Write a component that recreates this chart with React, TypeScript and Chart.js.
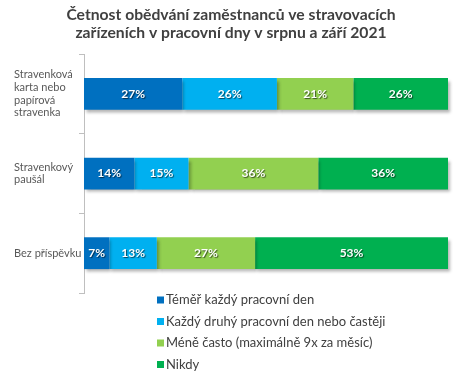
import React, { useEffect, useRef } from "react";
import { Chart, registerables } from "chart.js";

Chart.register(...registerables);

const titleLines = [
  "Četnost obědvání zaměstnanců ve stravovacích",
  "zařízeních v pracovní dny v srpnu a září 2021",
];

const categories: (string | string[])[] = [
  ["Stravenková", "karta nebo", "papírová", "stravenka"],
  ["Stravenkový", "paušál"],
  "Bez příspěvku",
];

const seriesNames = [
  "Téměř každý pracovní den",
  "Každý druhý pracovní den nebo častěji",
  "Méně často (maximálně 9x za měsíc)",
  "Nikdy",
];

const almostDaily = [27, 14, 7];
const everyOtherDay = [26, 15, 13];
const lessOften = [21, 36, 27];
const never = [26, 36, 53];

const seriesColors = ["#0070C0", "#00B0F0", "#92D050", "#00B050"];

const FONT = "Lato, 'Open Sans', sans-serif";

export default function App() {
  const ref = useRef<HTMLCanvasElement | null>(null);

  useEffect(() => {
    document.body.style.margin = "0";
    const canvas = ref.current;
    if (!canvas) return;

    const raw = [almostDaily, everyOtherDay, lessOften, never];
    const sums = categories.map((_, i) => raw.reduce((s, arr) => s + arr[i], 0));

    const shadowPlugin = {
      id: "barShadow",
      beforeDatasetsDraw(chart: any) {
        const ctx = chart.ctx;
        ctx.save();
        ctx.shadowColor = "rgba(0,0,0,0.3)";
        ctx.shadowOffsetX = 2;
        ctx.shadowOffsetY = 3;
        ctx.shadowBlur = 3;
      },
      afterDatasetsDraw(chart: any) {
        chart.ctx.restore();
      },
    };

    const labelPlugin = {
      id: "segLabels",
      afterDatasetsDraw(chart: any) {
        const ctx = chart.ctx;
        chart.data.datasets.forEach((ds: any, di: number) => {
          const meta = chart.getDatasetMeta(di);
          meta.data.forEach((el: any, i: number) => {
            const x = (el.x + el.base) / 2;
            const y = el.y;
            ctx.save();
            ctx.font = `bold 12px ${FONT}`;
            ctx.textAlign = "center";
            ctx.textBaseline = "middle";
            ctx.shadowColor = "rgba(0,0,0,0.6)";
            ctx.shadowOffsetX = 1;
            ctx.shadowOffsetY = 1;
            ctx.shadowBlur = 1;
            ctx.fillStyle = "#ffffff";
            ctx.fillText(`${ds.rawValues[i]}%`, x, y);
            ctx.restore();
          });
        });
      },
    };

    const legendPlugin = {
      id: "vertLegend",
      afterDraw(chart: any) {
        const ctx = chart.ctx;
        ctx.save();
        chart.data.datasets.forEach((ds: any, i: number) => {
          const y = 300 + i * 21.5;
          ctx.fillStyle = ds.backgroundColor;
          ctx.fillRect(157, y - 3.5, 7, 7);
          ctx.fillStyle = "#404040";
          ctx.font = `13px ${FONT}`;
          ctx.textAlign = "left";
          ctx.textBaseline = "middle";
          ctx.fillText(ds.label, 166, y);
        });
        ctx.restore();
      },
    };

    const chart = new Chart(canvas, {
      type: "bar",
      data: {
        labels: categories,
        datasets: raw.map((arr, si) => ({
          label: seriesNames[si],
          data: arr.map((v, i) => (v / sums[i]) * 100),
          rawValues: arr,
          backgroundColor: seriesColors[si],
          borderWidth: 0,
          barPercentage: 0.4,
          categoryPercentage: 1,
          clip: 6,
        })) as any,
      },
      options: {
        indexAxis: "y",
        animation: false,
        responsive: false,
        layout: { padding: { left: 14, right: 15, bottom: 82, top: 0 } },
        scales: {
          x: { stacked: true, display: false, min: 0, max: 100 },
          y: {
            stacked: true,
            afterFit: (s: any) => {
              s.width = 70;
            },
            border: { color: "#bfbfbf", width: 1 },
            grid: {
              drawOnChartArea: false,
              drawTicks: true,
              tickLength: 5,
              color: "#bfbfbf",
            },
            ticks: {
              crossAlign: "far",
              color: "#595959",
              font: { family: FONT, size: 11, lineHeight: 1.15 },
            },
          },
        },
        plugins: {
          legend: { display: false },
          tooltip: { enabled: false },
          title: {
            display: true,
            text: titleLines,
            color: "#404040",
            font: { family: FONT, size: 15.7, weight: "bold", lineHeight: 1.15 },
            padding: { top: 6, bottom: 12 },
          },
        },
      },
      plugins: [shadowPlugin, labelPlugin, legendPlugin],
    });

    return () => chart.destroy();
  }, []);

  return (
    <div style={{ width: 463, height: 375, background: "#fff" }}>
      <canvas ref={ref} width={463} height={375} style={{ display: "block" }} />
    </div>
  );
}
